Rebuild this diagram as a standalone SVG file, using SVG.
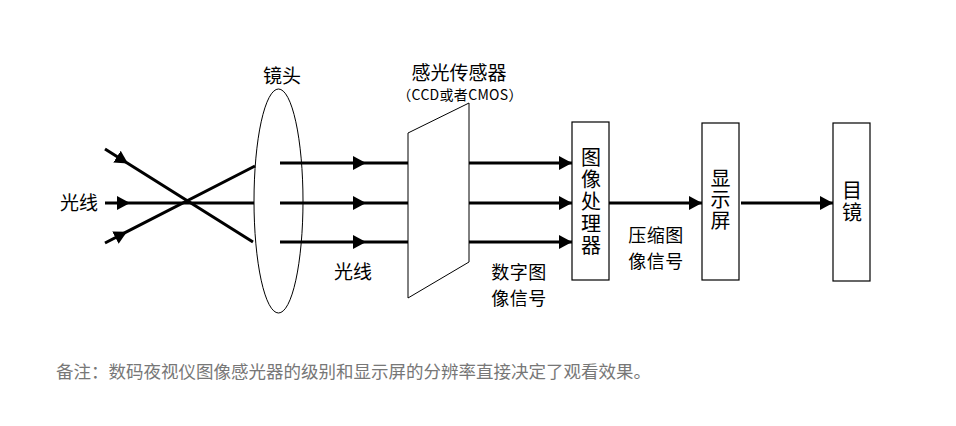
<svg xmlns="http://www.w3.org/2000/svg" width="956" height="426" viewBox="0 0 956 426">
<defs>
<marker id="ah" markerUnits="userSpaceOnUse" markerWidth="14" markerHeight="16" refX="13" refY="8" orient="auto" viewBox="0 0 14 16">
<path d="M0,1 L13,8 L0,15 z" fill="#000"/>
</marker>
<style>
text{font-family:"Microsoft YaHei","Noto Sans CJK SC","Noto Sans",sans-serif;fill:#000;text-anchor:middle;}
.lbl{font-size:19px;}
.ml{font-size:18px;letter-spacing:0.5px;}
.vt{font-size:20px;writing-mode:vertical-rl;text-anchor:start;}
.box{fill:#fff;stroke:#000;stroke-width:1.2;}
.ray{fill:none;stroke:#000;stroke-width:3;marker-mid:url(#ah);}
.arr{fill:none;stroke:#000;stroke-width:3;marker-end:url(#ah);}
.note{font-size:17.5px;fill:#777;text-anchor:start;}
</style>
</defs>
<rect width="956" height="426" fill="#fff"/>
<g id="connectors">
<polyline class="ray" points="105,149 128,163.5 253,242"/>
<polyline class="ray" points="105,203 130,203 254,203"/>
<polyline class="ray" points="105,243 127,231.7 255,166"/>
<polyline class="ray" points="280,163 366,163 408,163"/>
<polyline class="ray" points="280,203 366,203 408,203"/>
<polyline class="ray" points="280,242 366,242 408,242"/>
<line class="arr" x1="442" y1="163" x2="572" y2="163"/>
<line class="arr" x1="442" y1="203" x2="572" y2="203"/>
<line class="arr" x1="442" y1="242" x2="572" y2="242"/>
<line class="arr" x1="609" y1="203" x2="702" y2="203"/>
<line class="arr" x1="741" y1="203" x2="833" y2="203"/>
</g>
<g id="lens">
<ellipse cx="278.5" cy="201" rx="24.5" ry="112" fill="none" stroke="#000" stroke-width="1"/>
<text class="lbl" x="282" y="83">镜头</text>
</g>
<g id="light-in"><text class="lbl" x="79" y="210">光线</text></g>
<g id="light-out"><text class="lbl" x="353" y="279">光线</text></g>
<g id="sensor">
<polygon points="408,133 469,103 469,262 408,298" fill="#fff" stroke="#000" stroke-width="1"/>
<text class="lbl" x="459" y="80">感光传感器</text>
<text x="460" y="100" style="font-size:14px;letter-spacing:0.3px">（CCD或者CMOS）</text>
</g>
<g id="digital-label">
<text class="ml"><tspan x="519" y="279">数字图</tspan><tspan x="519" y="305">像信号</tspan></text>
</g>
<g id="processor">
<rect class="box" x="572" y="122" width="37" height="158"/>
<text class="vt" x="591" y="147" style="letter-spacing:2px">图像处理器</text>
</g>
<g id="compressed-label">
<text class="ml"><tspan x="656" y="242">压缩图</tspan><tspan x="656" y="268">像信号</tspan></text>
</g>
<g id="display">
<rect class="box" x="702" y="123" width="37" height="157"/>
<text class="vt" x="720.5" y="168" style="letter-spacing:1px">显示屏</text>
</g>
<g id="eyepiece">
<rect class="box" x="833" y="123" width="37" height="158"/>
<text class="vt" x="852" y="180" style="letter-spacing:2px">目镜</text>
</g>
<g id="note">
<text class="note" x="56" y="378">备注：数码夜视仪图像感光器的级别和显示屏的分辨率直接决定了观看效果。</text>
</g>
</svg>
